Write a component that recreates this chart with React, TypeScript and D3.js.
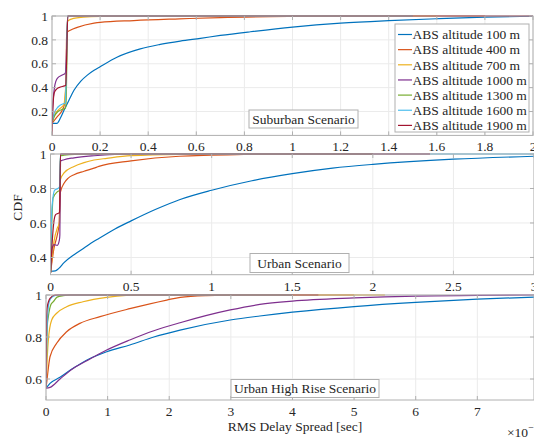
import React from 'react';
import * as d3 from 'd3';

type Pt = [number, number];

const ALTITUDES = [100, 400, 700, 1000, 1300, 1600, 1900];
const COLORS = ['#0072BD', '#D95319', '#EDB120', '#7E2F8E', '#77AC30', '#4DBEEE', '#A2142F'];

// RMS delay spread in units of 1e-7 s, CDF value
const SUBURBAN_100: Pt[] = [[0, 0.1], [0.02, 0.1], [0.036, 0.15], [0.05, 0.21], [0.071, 0.297], [0.092, 0.38], [0.12, 0.455], [0.147, 0.505], [0.175, 0.545], [0.2, 0.575], [0.27, 0.655], [0.367, 0.725], [0.45, 0.762], [0.533, 0.79], [0.617, 0.813], [0.7, 0.837], [0.825, 0.868], [1.0, 0.907], [1.2, 0.94], [1.4, 0.961], [1.6, 0.977], [1.8, 0.99], [2.0, 0.998]];
const SUBURBAN_400: Pt[] = [[0, 0.1], [0.022, 0.157], [0.043, 0.213], [0.053, 0.27], [0.058, 0.45], [0.061, 0.86], [0.078, 0.883], [0.105, 0.905], [0.175, 0.94], [0.2, 0.947], [0.34, 0.962], [0.53, 0.976], [0.7, 0.987], [1.0, 0.996], [1.4, 1.0], [1.8, 1.0]];
const SUBURBAN_700: Pt[] = [[0, 0.1], [0.01, 0.17], [0.03, 0.22], [0.05, 0.26], [0.056, 0.38], [0.059, 0.45], [0.064, 0.95], [0.07, 0.965], [0.09, 0.98], [0.13, 0.99], [0.2, 0.997], [0.4, 1.0], [1.6, 1.0]];
const SUBURBAN_1000: Pt[] = [[0, 0.1], [0.005, 0.3], [0.011, 0.41], [0.022, 0.478], [0.043, 0.506], [0.055, 0.52], [0.059, 0.62], [0.065, 1.0], [1.5, 1.0]];
const SUBURBAN_1300: Pt[] = [[0, 0.1], [0.01, 0.16], [0.025, 0.2], [0.045, 0.22], [0.056, 0.23], [0.059, 0.3], [0.065, 1.0], [1.5, 1.0]];
const SUBURBAN_1600: Pt[] = [[0, 0.1], [0.008, 0.18], [0.026, 0.24], [0.047, 0.265], [0.055, 0.27], [0.058, 0.42], [0.065, 1.0], [1.5, 1.0]];
const SUBURBAN_1900: Pt[] = [[0, 0], [0.004, 0.25], [0.01, 0.36], [0.02, 0.39], [0.035, 0.405], [0.052, 0.415], [0.057, 0.42], [0.066, 1.0], [2.0, 1.0]];

const URBAN_100: Pt[] = [[0, 0.32], [0.03, 0.322], [0.05, 0.335], [0.084, 0.37], [0.146, 0.416], [0.208, 0.455], [0.27, 0.494], [0.3, 0.51], [0.4, 0.565], [0.5, 0.612], [0.65, 0.678], [0.8, 0.735], [1.0, 0.79], [1.25, 0.845], [1.5, 0.886], [1.75, 0.918], [2.0, 0.94], [2.5, 0.97], [3.0, 0.987]];
const URBAN_400: Pt[] = [[0, 0.31], [0.022, 0.455], [0.042, 0.53], [0.053, 0.59], [0.057, 0.7], [0.062, 0.78], [0.084, 0.83], [0.11, 0.86], [0.146, 0.88], [0.208, 0.9], [0.27, 0.918], [0.3, 0.928], [0.5, 0.96], [0.8, 0.987], [1.2, 0.997], [1.6, 1.0], [2.0, 1.0]];
const URBAN_700: Pt[] = [[0, 0.31], [0.022, 0.495], [0.042, 0.57], [0.056, 0.6], [0.061, 0.85], [0.084, 0.89], [0.146, 0.928], [0.208, 0.95], [0.27, 0.965], [0.35, 0.975], [0.5, 0.99], [0.8, 0.998], [1.2, 1.0], [2.0, 1.0]];
const URBAN_1000: Pt[] = [[0, 0.31], [0.01, 0.45], [0.022, 0.474], [0.042, 0.47], [0.055, 0.5], [0.058, 0.53], [0.062, 0.958], [0.084, 0.967], [0.146, 0.978], [0.27, 0.99], [0.4, 0.997], [0.6, 1.0], [2.0, 1.0]];
const URBAN_1300: Pt[] = [[0, 0.31], [0.008, 0.6], [0.016, 0.745], [0.042, 0.78], [0.056, 0.79], [0.062, 0.99], [0.084, 0.993], [0.15, 0.998], [0.3, 1.0], [2.0, 1.0]];
const URBAN_1600: Pt[] = [[0, 0.31], [0.006, 0.62], [0.012, 0.72], [0.026, 0.79], [0.045, 0.8], [0.056, 0.81], [0.062, 1.0], [3.0, 1.0]];
const URBAN_1900: Pt[] = [[0, 0.31], [0.008, 0.45], [0.02, 0.6], [0.032, 0.648], [0.045, 0.655], [0.056, 0.66], [0.062, 1.0], [2.355, 1.0]];

const HIGHRISE_100: Pt[] = [[0, 0.556], [0.065, 0.579], [0.227, 0.608], [0.44, 0.651], [0.714, 0.698], [0.985, 0.73], [1.36, 0.762], [1.75, 0.8], [2.175, 0.833], [2.99, 0.881], [3.47, 0.9], [4.0, 0.918], [5.0, 0.945], [6.0, 0.965], [7.0, 0.98], [7.92, 0.99]];
const HIGHRISE_400: Pt[] = [[0, 0.556], [0.01, 0.58], [0.065, 0.706], [0.173, 0.77], [0.335, 0.825], [0.55, 0.865], [0.877, 0.897], [1.36, 0.935], [1.96, 0.976], [2.18, 0.989], [2.6, 0.997], [3.2, 1.0], [5.0, 1.0]];
const HIGHRISE_700: Pt[] = [[0, 0.556], [0.02, 0.7], [0.038, 0.786], [0.092, 0.881], [0.173, 0.913], [0.335, 0.944], [0.6, 0.968], [0.985, 0.989], [1.3, 0.998], [1.6, 1.0], [5.5, 1.0]];
const HIGHRISE_1000: Pt[] = [[0, 0.556], [0.065, 0.56], [0.227, 0.6], [0.44, 0.65], [0.714, 0.695], [0.985, 0.738], [1.36, 0.786], [1.75, 0.83], [2.175, 0.868], [2.99, 0.929], [3.47, 0.955], [4.0, 0.971], [5.0, 0.986], [6.0, 0.995], [7.0, 0.998], [7.92, 1.0]];
const HIGHRISE_1300: Pt[] = [[0, 0.556], [0.02, 0.85], [0.038, 0.897], [0.08, 0.955], [0.119, 0.968], [0.18, 0.99], [0.28, 0.997], [0.4, 1.0], [4.0, 1.0]];
const HIGHRISE_1600: Pt[] = [[0, 0.556], [0.021, 0.865], [0.05, 0.965], [0.1, 0.99], [0.2, 1.0], [4.0, 1.0]];
const HIGHRISE_1900: Pt[] = [[0, 0.556], [0.01, 0.9], [0.021, 0.944], [0.065, 0.984], [0.146, 1.0], [4.42, 1.0]];

const SUBURBAN = [SUBURBAN_100, SUBURBAN_400, SUBURBAN_700, SUBURBAN_1000, SUBURBAN_1300, SUBURBAN_1600, SUBURBAN_1900];
const URBAN = [URBAN_100, URBAN_400, URBAN_700, URBAN_1000, URBAN_1300, URBAN_1600, URBAN_1900];
const HIGHRISE = [HIGHRISE_100, HIGHRISE_400, HIGHRISE_700, HIGHRISE_1000, HIGHRISE_1300, HIGHRISE_1600, HIGHRISE_1900];

const SUBURBAN_X_TICKS = [0, 0.2, 0.4, 0.6, 0.8, 1, 1.2, 1.4, 1.6, 1.8, 2];
const SUBURBAN_Y_TICKS = [0.2, 0.4, 0.6, 0.8, 1];
const URBAN_X_TICKS = [0, 0.5, 1, 1.5, 2, 2.5, 3];
const URBAN_Y_TICKS = [0.4, 0.6, 0.8, 1];
const HIGHRISE_X_TICKS = [0, 1, 2, 3, 4, 5, 6, 7];
const HIGHRISE_Y_TICKS = [0.6, 0.8, 1];

const FONT = "'Liberation Serif', 'Times New Roman', Tinos, serif";
const TEXT = '#262626';
const AXIS = '#b0b0b0';
const GRID = '#ebebeb';
const FS = 13.5;
const txt: React.CSSProperties = { fontFamily: FONT, fontSize: FS, fill: TEXT };

type PanelProps = {
  id: string;
  series: Pt[][];
  xDomain: [number, number];
  yDomain: [number, number];
  left: number;
  right: number;
  top: number;
  bottom: number;
  xTicks: number[];
  yTicks: number[];
  title: string;
  titleBox: { x: number; y: number; w: number; h: number };
};

const fmt = (v: number) => String(+v.toFixed(2));

function Panel(p: PanelProps) {
  const x = d3.scaleLinear().domain(p.xDomain).range([p.left, p.right]);
  const y = d3.scaleLinear().domain(p.yDomain).range([p.bottom, p.top]);
  const line = d3
    .line<Pt>()
    .x((d) => x(d[0]))
    .y((d) => y(d[1]))
    .curve(d3.curveMonotoneX);
  const tl = 4;
  return (
    <g>
      <defs>
        <clipPath id={`clip-${p.id}`}>
          <rect x={p.left} y={p.top - 1} width={p.right - p.left} height={p.bottom - p.top + 2} />
        </clipPath>
      </defs>
      <rect x={p.left} y={p.top} width={p.right - p.left} height={p.bottom - p.top} fill="#fff" />
      {p.xTicks.map((t) => (
        <line key={`gx${t}`} x1={x(t)} x2={x(t)} y1={p.top} y2={p.bottom} stroke={GRID} strokeWidth={1} />
      ))}
      {p.yTicks.map((t) => (
        <line key={`gy${t}`} x1={p.left} x2={p.right} y1={y(t)} y2={y(t)} stroke={GRID} strokeWidth={1} />
      ))}
      <g clipPath={`url(#clip-${p.id})`}>
        {p.series.map((s, i) => (
          <path key={i} d={line(s) || ''} fill="none" stroke={COLORS[i]} strokeWidth={1.2} strokeLinejoin="round" />
        ))}
      </g>
      <rect x={p.left} y={p.top} width={p.right - p.left} height={p.bottom - p.top} fill="none" stroke={AXIS} strokeWidth={1} />
      {p.xTicks.map((t) => (
        <g key={`tx${t}`}>
          <line x1={x(t)} x2={x(t)} y1={p.bottom} y2={p.bottom - tl} stroke={AXIS} />
          <line x1={x(t)} x2={x(t)} y1={p.top} y2={p.top + tl} stroke={AXIS} />
          <text x={x(t)} y={p.bottom + 16} textAnchor="middle" style={txt}>
            {fmt(t)}
          </text>
        </g>
      ))}
      {p.yTicks.map((t) => (
        <g key={`ty${t}`}>
          <line x1={p.left} x2={p.left + tl} y1={y(t)} y2={y(t)} stroke={AXIS} />
          <line x1={p.right} x2={p.right - tl} y1={y(t)} y2={y(t)} stroke={AXIS} />
          <text x={p.left - 4} y={y(t)} dy="0.35em" textAnchor="end" style={txt}>
            {fmt(t)}
          </text>
        </g>
      ))}
      <rect x={p.titleBox.x} y={p.titleBox.y} width={p.titleBox.w} height={p.titleBox.h} fill="#fff" stroke={AXIS} strokeWidth={1} />
      <text x={p.titleBox.x + p.titleBox.w / 2} y={p.titleBox.y + p.titleBox.h / 2} dy="0.35em" textAnchor="middle" style={txt}>
        {p.title}
      </text>
    </g>
  );
}

export default function App() {
  const legendX = 395;
  const legendY = 24;
  return (
    <svg width={534} height={437} style={{ position: 'absolute', left: 0, top: 0, background: '#fff' }}>
      <rect width={534} height={437} fill="#fff" />
      <Panel
        id="sub"
        series={SUBURBAN}
        xDomain={[0, 2]}
        yDomain={[0, 1]}
        left={52}
        right={533}
        top={16}
        bottom={135.4}
        xTicks={SUBURBAN_X_TICKS}
        yTicks={SUBURBAN_Y_TICKS}
        title="Suburban Scenario"
        titleBox={{ x: 249, y: 110, w: 109, h: 18 }}
      />
      <Panel
        id="urb"
        series={URBAN}
        xDomain={[0, 3]}
        yDomain={[0.3, 1]}
        left={50.5}
        right={534}
        top={154}
        bottom={274.7}
        xTicks={URBAN_X_TICKS}
        yTicks={URBAN_Y_TICKS}
        title="Urban Scenario"
        titleBox={{ x: 250, y: 253.5, w: 99, h: 19 }}
      />
      <Panel
        id="hr"
        series={HIGHRISE}
        xDomain={[0, 7.92]}
        yDomain={[0.5, 1]}
        left={46}
        right={534}
        top={295}
        bottom={400}
        xTicks={HIGHRISE_X_TICKS}
        yTicks={HIGHRISE_Y_TICKS}
        title="Urban High Rise Scenario"
        titleBox={{ x: 231, y: 379.5, w: 148, h: 18 }}
      />
      <text transform="translate(22,207.5) rotate(-90)" textAnchor="middle" style={txt}>
        CDF
      </text>
      <text x={295} y={431} textAnchor="middle" style={txt}>
        RMS Delay Spread [sec]
      </text>
      <text x={507} y={437} style={txt}>
        ×10
        <tspan dy={-6} style={{ fontSize: 10 }}>
          −7
        </tspan>
      </text>
      <g>
        <rect x={legendX} y={legendY} width={134} height={108} fill="#fff" stroke={AXIS} strokeWidth={1} />
        {ALTITUDES.map((a, i) => {
          const ry = legendY + 10.5 + i * 15.15;
          return (
            <g key={a}>
              <line x1={legendX + 3} x2={legendX + 17} y1={ry} y2={ry} stroke={COLORS[i]} strokeWidth={1.2} />
              <text x={legendX + 17.5} y={ry} dy="0.35em" style={txt}>
                {`ABS altitude ${a} m`}
              </text>
            </g>
          );
        })}
      </g>
    </svg>
  );
}
